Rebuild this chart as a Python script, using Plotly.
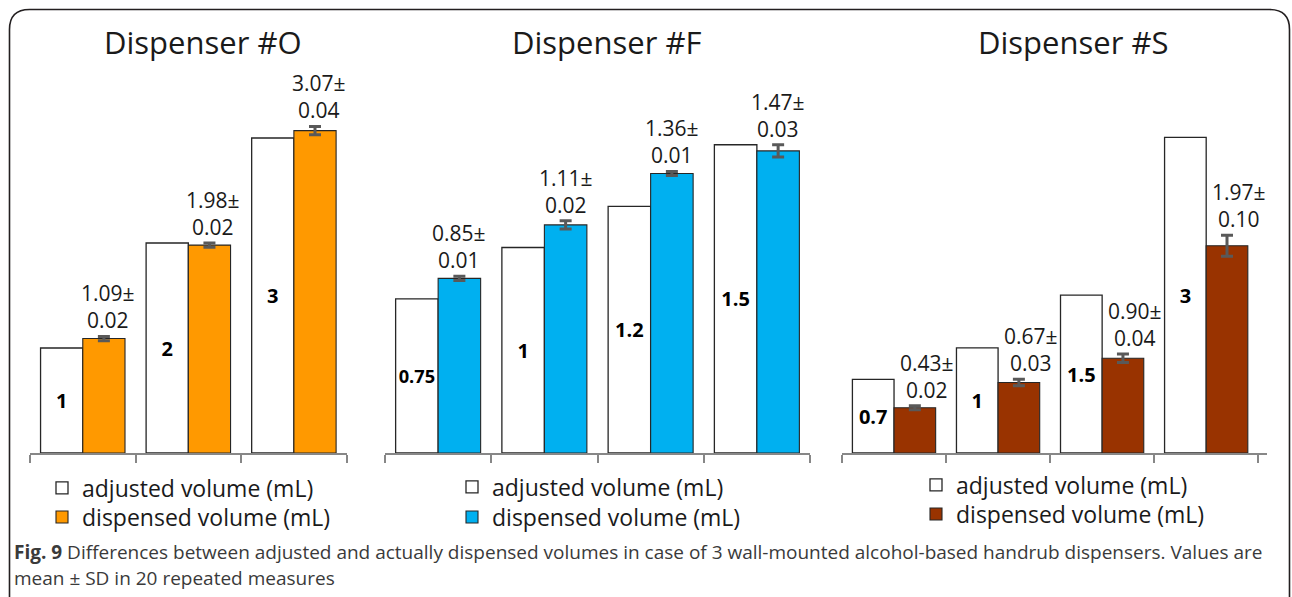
import plotly.graph_objects as go

W, H = 1292, 597

# ---------------- data ----------------
titles = ["Dispenser #O", "Dispenser #F", "Dispenser #S"]

o_labels = ["1", "2", "3"]
o_adjusted = [1, 2, 3]
o_dispensed = [1.09, 1.98, 3.07]
o_sd = [0.02, 0.02, 0.04]

f_labels = ["0.75", "1", "1.2", "1.5"]
f_adjusted = [0.75, 1, 1.2, 1.5]
f_dispensed = [0.85, 1.11, 1.36, 1.47]
f_sd = [0.01, 0.02, 0.01, 0.03]

s_labels = ["0.7", "1", "1.5", "3"]
s_adjusted = [0.7, 1, 1.5, 3]
s_dispensed = [0.43, 0.67, 0.90, 1.97]
s_sd = [0.02, 0.03, 0.04, 0.10]

series_names = ["adjusted volume (mL)", "dispensed volume (mL)"]
colors = ["#FFFFFF", "#FF9900", "#00B0F0", "#993300"]

caption1 = ("<b>Fig. 9</b> Differences between adjusted and actually dispensed volumes in case of "
            "3 wall-mounted alcohol-based handrub dispensers. Values are")
caption2 = "mean ± SD in 20 repeated measures"

FONT = "Open Sans"
TXT = "#1a1a1a"


def px(x):
    return x / W


def py(y):
    return 1 - y / H


panels = [
    dict(labels=o_labels, adj=o_adjusted, dis=o_dispensed, sd=o_sd, color=colors[1],
         xdom=(30, 347), ymax=373 / 105.0, title_x=203, legend_x=42, legend_y=(488, 517),
         xshift=4),
    dict(labels=f_labels, adj=f_adjusted, dis=f_dispensed, sd=f_sd, color=colors[2],
         xdom=(385, 810), ymax=373 / 205.5, title_x=606, legend_x=452, legend_y=(487, 517),
         xshift=0),
    dict(labels=s_labels, adj=s_adjusted, dis=s_dispensed, sd=s_sd, color=colors[3],
         xdom=(842, 1267), ymax=373 / 105.2, title_x=1073, legend_x=916, legend_y=(485, 514),
         xshift=12),
]

fig = go.Figure()
annotations = []
layout_axes = {}
legends = {}


def legend_name(idx):
    return "legend" if idx == 1 else f"legend{idx}"


for i, p in enumerate(panels):
    n = i + 1
    xa = "x" if n == 1 else f"x{n}"
    ya = "y" if n == 1 else f"y{n}"
    lg_a = legend_name(2 * n - 1)
    lg_d = legend_name(2 * n)
    cats = [f"c{k}" for k in range(len(p["adj"]))]

    fig.add_trace(go.Bar(
        x=cats, y=p["adj"], name=series_names[0], xaxis=xa, yaxis=ya, legend=lg_a,
        marker=dict(color=colors[0], line=dict(color="#262626", width=1.3)),
        text=[f"<b>{t}</b>" for t in p["labels"]], textposition="inside",
        insidetextanchor="middle", textangle=0,
        textfont=dict(family=FONT, size=20, color="#000000"),
        hoverinfo="skip",
    ))
    fig.add_trace(go.Bar(
        x=cats, y=p["dis"], name=series_names[1], xaxis=xa, yaxis=ya, legend=lg_d,
        marker=dict(color=p["color"], line=dict(color="#262626", width=1.1)),
        error_y=dict(type="data", array=p["sd"], color="#595959", thickness=3, width=6),
        hoverinfo="skip",
    ))

    axkey = "xaxis" if n == 1 else f"xaxis{n}"
    aykey = "yaxis" if n == 1 else f"yaxis{n}"
    layout_axes[axkey] = dict(
        domain=[px(p["xdom"][0]), px(p["xdom"][1])], anchor=ya, type="category",
        tickson="boundaries", ticks="outside", ticklen=8, tickwidth=2, tickcolor="#878787",
        showline=True, linecolor="#878787", linewidth=2, showticklabels=False,
        showgrid=False, zeroline=False, fixedrange=True,
    )
    layout_axes[aykey] = dict(
        domain=[py(453), py(80)], anchor=xa, range=[0, p["ymax"]],
        showline=False, showgrid=False, zeroline=False, showticklabels=False,
        ticks="", fixedrange=True,
    )
    for lg, yy in ((lg_a, p["legend_y"][0]), (lg_d, p["legend_y"][1])):
        legends[lg] = dict(
            x=px(p["legend_x"]), y=py(yy), xanchor="left", yanchor="middle",
            font=dict(family=FONT, size=23, color=TXT), bgcolor="rgba(0,0,0,0)",
        )

    # panel title
    annotations.append(dict(
        x=px(p["title_x"]), y=py(42), xref="paper", yref="paper", text=titles[i],
        showarrow=False, font=dict(family=FONT, size=31, color=TXT),
        xanchor="center", yanchor="middle",
    ))
    # value labels above dispensed bars
    for k, (v, s) in enumerate(zip(p["dis"], p["sd"])):
        annotations.append(dict(
            x=k + 0.2, y=v + s, xref=xa, yref=ya, text=f"{v:.2f}±<br>{s:.2f}",
            showarrow=False, font=dict(family=FONT, size=21, color=TXT),
            xanchor="center", yanchor="bottom", yshift=1, xshift=p["xshift"],
            borderpad=0, align="center",
        ))

# caption
annotations.append(dict(x=px(12), y=py(552), xref="paper", yref="paper", text=caption1,
                        showarrow=False, xanchor="left", yanchor="middle",
                        font=dict(family=FONT, size=19, color="#3a3a3a")))
annotations.append(dict(x=px(12), y=py(578), xref="paper", yref="paper", text=caption2,
                        showarrow=False, xanchor="left", yanchor="middle",
                        font=dict(family=FONT, size=19, color="#3a3a3a")))

# rounded frame
L, T, R, B, r = 9.5, 9.5, 1289.5, 620, 20
path = (f"M {px(L)},{py(B)} L {px(L)},{py(T + r)} Q {px(L)},{py(T)} {px(L + r)},{py(T)} "
        f"L {px(R - r)},{py(T)} Q {px(R)},{py(T)} {px(R)},{py(T + r)} L {px(R)},{py(B)}")

fig.update_layout(
    width=W, height=H,
    margin=dict(l=0, r=0, t=0, b=0, autoexpand=False),
    paper_bgcolor="white", plot_bgcolor="rgba(0,0,0,0)",
    barmode="group", bargap=0.2, bargroupgap=0,
    showlegend=True,
    annotations=annotations,
    shapes=[dict(type="path", path=path, xref="paper", yref="paper",
                 line=dict(color="#231f20", width=1.6))],
    font=dict(family=FONT, color=TXT),
    **layout_axes,
    **legends,
)

fig.write_html("out.html", config={"displayModeBar": False},
               post_script="document.body.style.margin='0';document.body.style.overflow='hidden';")
